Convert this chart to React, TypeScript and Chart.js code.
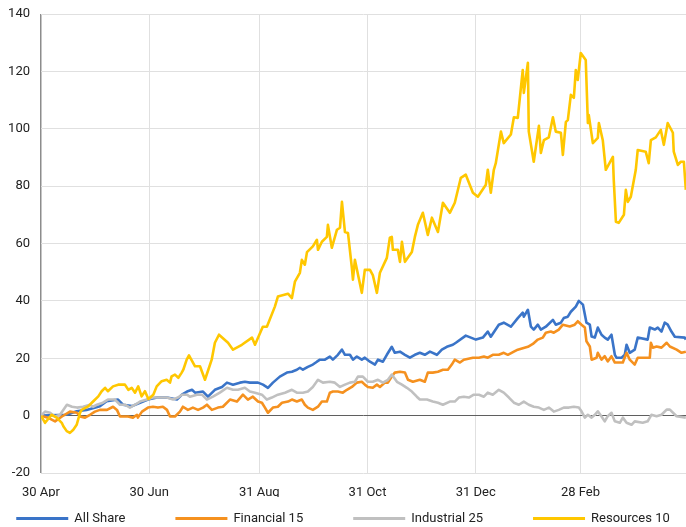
import React, { useEffect, useRef } from "react";
import { Chart, registerables } from "chart.js";

Chart.register(...registerables);

// x values are days since 30 Apr
const tickDays = [0, 61, 123, 184, 245, 304];
const tickLabels = ["30 Apr", "30 Jun", "31 Aug", "31 Oct", "31 Dec", "28 Feb"];
const seriesNames = ["All Share", "Financial 15", "Industrial 25", "Resources 10"];

const allShareDays = [0, 14.5, 20.1, 25.7, 33.2, 37, 43.4, 46.2, 51.3, 55.8, 60.3, 65.4, 71, 76.6, 79.4, 82.3, 85.1, 86.8, 91.3, 94.1, 98, 102, 104.8, 108.2, 112.1, 114.9, 117.7, 122.3, 125.1, 127.9, 130.7, 134.6, 138.6, 141.4, 144.2, 145.9, 147.6, 150.4, 153.2, 155.5, 157.2, 160, 162.8, 164.5, 167.3, 169.6, 171.3, 174.1, 175.8, 178, 180.8, 182.5, 185.4, 188.2, 189.9, 192.7, 194.9, 197.7, 199.4, 202.3, 205.1, 207.9, 210.7, 213.5, 216.3, 219.2, 223.1, 225.9, 228.7, 232.1, 233.8, 239.4, 245.1, 249, 251.8, 253.5, 258, 260.8, 264.8, 268.7, 271.5, 272.1, 274.4, 276.1, 277.7, 280, 281.7, 284.5, 288.5, 290.1, 293, 294.6, 296.9, 298.6, 301.4, 303.1, 305.4, 307.4, 309.3, 310.3, 312.1, 313.8, 315.9, 317.7, 319.4, 321.5, 323.4, 324.3, 327.2, 329, 330, 331.8, 334.6, 336.3, 341.9, 343.1, 345.9, 347.6, 349.7, 351.5, 353.2, 355.3, 357.2, 362.8, 363.4];
const allShareValues = [0, 0.3, 1.5, 2, 3.3, 5, 5.6, 3.8, 3.3, 4.5, 5.6, 6.3, 6.3, 5.6, 7.3, 8.4, 9, 8, 8.4, 6.6, 9, 10, 11.5, 10.8, 11.5, 11.8, 11.5, 11.5, 10.8, 9.7, 11.5, 13.6, 15, 15.3, 16, 16.7, 16, 17, 17.8, 18.8, 19.5, 19.5, 20.6, 19.5, 21.2, 23, 21.2, 21.2, 19.5, 20.6, 19.5, 20.2, 18.8, 17.8, 19.5, 18.8, 21.2, 24, 21.9, 22.3, 21.2, 20.2, 21.2, 21.9, 21.2, 22.3, 21.2, 23, 24, 24.7, 25.4, 27.9, 26.5, 27.2, 29.3, 27.5, 31.7, 32.4, 31, 34, 35.9, 34.5, 36.9, 31, 30, 31.7, 30, 31, 33.4, 31.7, 32.4, 34, 34.5, 36.2, 38, 40, 38.7, 32.4, 31.7, 27.6, 27.2, 30.7, 28.2, 27.2, 26.5, 28.2, 21.2, 20.2, 20.2, 21.2, 24.7, 21.9, 23, 27.2, 26.5, 30.7, 30, 30.7, 29.3, 32.4, 31.7, 29.3, 27.5, 27.2, 26.5];

const financialDays = [0, 3.9, 7.9, 11.8, 16.3, 20.3, 22, 24.8, 27.6, 30.4, 33.2, 37.2, 40.6, 42.8, 44.5, 49, 51.8, 54.1, 54.6, 56.9, 60.3, 63.1, 65.9, 68.7, 71, 72.7, 75.5, 78.3, 80, 82.8, 85.6, 88.5, 91.3, 93.5, 96.3, 99.7, 102.5, 106.5, 110.4, 113.8, 116.6, 119.4, 122.3, 124.5, 126.2, 127.9, 130.7, 133.5, 135.8, 139.2, 141.4, 144.2, 147, 148.7, 150.4, 153.2, 156.1, 158.3, 161.1, 162.8, 164.5, 167.3, 170.1, 172.4, 175.2, 178, 180.8, 182.5, 184.2, 187, 189.3, 191, 193.8, 195.5, 197.7, 199.4, 202.3, 205.1, 206.8, 209.6, 213.5, 216.3, 218, 220.8, 223.7, 226.5, 229.3, 231.5, 233.2, 236.1, 238.3, 243.4, 246.8, 249.6, 251.8, 254.6, 258, 260.8, 263.1, 266.5, 268.7, 271.5, 274.4, 277.2, 280, 282.8, 284.5, 287.3, 289, 291.8, 294.1, 298, 300.8, 302.5, 304.6, 306.5, 307.4, 309.3, 310.3, 313.1, 313.8, 315.9, 317.7, 319.4, 321.5, 323.4, 327.9, 330, 331.8, 334.6, 336.3, 343.1, 343.7, 344.8, 346.9, 349.7, 352.6, 354.4, 358.2, 361, 363.4];
const financialValues = [0, -0.7, -2, -0.3, 1.4, 1, -0.3, -0.7, 0.3, 1.4, 2, 2, 3.1, 2, -0.3, -0.3, -0.7, 0.3, -0.7, 1.4, 2.8, 3.1, 2.8, 3.1, 2, -0.3, -0.3, 1.4, 3.1, 2, 2.8, 2, 2.8, 3.8, 2, 2.8, 3.1, 5.6, 4.9, 7.3, 5.6, 6.6, 4.9, 4.5, 2.8, 1, 2.8, 3.1, 4.5, 4.9, 5.6, 4.9, 5.6, 3.8, 2.8, 2, 3.1, 4.9, 4.9, 8, 8.4, 8.4, 8, 9, 10, 11.5, 11.8, 10.8, 10, 9.7, 10.8, 10, 11.5, 11.5, 13.6, 15, 15.3, 15, 12.5, 11.8, 12.5, 11.8, 15, 15, 15.3, 16, 16, 17.8, 19.5, 18.5, 19.5, 20.2, 20.2, 20.6, 20.2, 21.2, 21.2, 21.9, 21.2, 22.3, 23, 23.5, 24, 25, 26.5, 27.2, 28.9, 29.3, 28.9, 30, 31.7, 31.1, 31.7, 32.9, 31.7, 30.7, 25.9, 24.1, 19.5, 20.2, 21.9, 19.5, 20.7, 18.9, 20.7, 18.5, 18.5, 21.9, 19.5, 17.8, 20.2, 20.2, 25.4, 23.7, 24.1, 23.7, 25.4, 24.1, 23, 21.9, 22.3];

const industrialDays = [0, 2.3, 5.1, 7.9, 10.7, 14.6, 17.5, 20.3, 23.7, 27.6, 29.3, 31.5, 34.9, 37.7, 41.7, 44.5, 47.3, 50.1, 53, 55.8, 59.7, 63.1, 67, 71, 74.4, 77.2, 79.4, 82.3, 83.9, 87.9, 90.7, 93.5, 96.9, 100.8, 104.8, 108.2, 111, 114.9, 117.7, 120.6, 124.5, 127.3, 130.1, 133.5, 137.5, 141.4, 144.2, 147.6, 150.4, 153.2, 156.1, 158.9, 162.8, 165.6, 168.5, 171.3, 174.1, 176.9, 178.6, 181.4, 184.2, 187, 189.9, 192.7, 195.5, 197.7, 200.6, 203.4, 206.2, 209, 211.8, 213.5, 217.5, 220.8, 223.7, 226.5, 230.4, 233.2, 235.5, 238.3, 241.1, 243.9, 246.8, 249.6, 251.8, 254.6, 258, 260.8, 263.7, 266.5, 269.3, 272.1, 274.9, 277.7, 280.6, 283.4, 286.2, 289, 291.8, 294.6, 297.5, 300.3, 303.1, 304.6, 306.5, 308.2, 310.3, 312, 313.8, 315.9, 317.7, 319.4, 321.5, 323.4, 326.2, 327.9, 330, 332.8, 334.6, 339.1, 341.9, 344, 346.9, 349.7, 352.6, 354.4, 358.2, 363.4];
const industrialValues = [0, 1.4, 1, -0.3, 0.3, 3.8, 3.1, 2.8, 3.1, 3.8, 3.1, 3.8, 4.5, 5.6, 5.6, 3.8, 3.8, 2.8, 3.8, 4.9, 5.6, 6.3, 6.3, 6.3, 5.6, 6.3, 7.3, 7.3, 6.6, 7.3, 7.3, 5.6, 6.6, 8, 9.7, 9, 9, 9.7, 8.4, 8, 7.3, 5.6, 6.3, 7.3, 8, 9, 8, 8, 8.4, 10, 12.5, 11.5, 11.8, 11.5, 10, 10.8, 11.5, 11.8, 13.6, 13.6, 11.8, 11.8, 12.5, 11.5, 12.5, 14.3, 11.8, 10.8, 9.7, 8.4, 6.6, 5.6, 5.6, 4.9, 4.5, 3.8, 4.9, 4.9, 6.3, 6.6, 6.3, 7.3, 7.3, 6.6, 8, 7.3, 9, 8, 6.3, 4.5, 3.8, 4.9, 3.8, 3.1, 2.8, 2, 2.8, 1.4, 2, 2.8, 2.8, 3.1, 2.8, 1.5, -0.7, 0.3, -0.7, 0.2, 1.5, -0.3, -2, -0.2, 1, -2, -2.5, -0.7, -2.5, -3.2, -2, -2.5, -2, 0.3, -0.2, 0.3, 2.1, 2.1, -0.2, -0.7];

const resourcesDays = [0, 2.3, 6, 8.8, 11.7, 12.6, 14.5, 16.3, 18.2, 20.1, 22, 22.9, 26.6, 29.5, 32.3, 34.2, 36.1, 37.7, 40.6, 43.5, 47.3, 49.2, 51.1, 53, 54.8, 56.7, 58.6, 60.5, 63.3, 65.2, 68, 70.8, 72.7, 73.6, 75.5, 77.4, 79.3, 80.2, 82.1, 83.4, 86.8, 89.6, 92.4, 94.3, 96.2, 98, 100.3, 105.4, 108.2, 113.2, 118.9, 120.6, 125, 127.3, 131.8, 133.5, 139.2, 141.4, 143.1, 145.9, 147, 148.7, 149.9, 153.2, 155.5, 156.1, 158.3, 161.1, 161.7, 163.9, 166.8, 168.5, 169.6, 171.3, 173, 175.2, 175.8, 176.9, 180.8, 182.5, 185.4, 187, 189.3, 191, 194.9, 196.6, 197.7, 198.3, 201.1, 202.3, 203.4, 205.1, 209, 210.7, 212.4, 215.2, 218, 220.3, 223.7, 226.5, 230.4, 233.2, 236.6, 239.4, 243.4, 246.2, 250.7, 251.8, 253.5, 255.2, 256.3, 259.2, 260.8, 264.8, 266.5, 268.7, 271.5, 272.1, 274.4, 274.9, 277.7, 280.6, 281.7, 283.4, 286.2, 288.5, 290.1, 293, 294.1, 295.8, 296.9, 298.6, 300.3, 301.4, 302.5, 304.2, 307, 308.2, 308.7, 311, 313.8, 314.4, 316.6, 318.3, 322.3, 322.8, 324, 325.6, 328.5, 329.6, 330.7, 332.4, 335.2, 336.3, 340.8, 342.5, 343.7, 346.5, 349.3, 351, 353.2, 356.1, 356.6, 358.9, 360.6, 362.3, 363.4];
const resourcesValues = [0, -2.5, 0.3, -0.7, -2.5, -3.7, -5.4, -6, -4.9, -3.2, 1, 2, 3.2, 5, 6.7, 8.5, 9.7, 8.5, 10.2, 10.8, 10.8, 9, 9.7, 8, 10.2, 6.7, 8.5, 5.8, 7.3, 10.2, 12, 12.5, 11.5, 13.7, 14.3, 13.2, 15, 16, 19.5, 21, 17.2, 17.2, 12.5, 16, 19.5, 25.4, 28.2, 25.4, 23, 24.7, 27.2, 24.7, 31, 31, 38, 41.5, 42.5, 41, 46.7, 49.8, 54.3, 52.6, 57, 59, 61.3, 57.8, 60.6, 62.3, 66.5, 58.5, 64.8, 65.5, 74.5, 64, 63.7, 51.5, 47.4, 54.3, 42.8, 50.8, 50.8, 49, 42.8, 49.8, 55, 62, 62.3, 57.8, 57.8, 53.6, 60.6, 53.6, 57, 62.3, 66.5, 70.7, 63, 69, 64, 74.2, 70.7, 74.2, 82.9, 84, 77.7, 76.3, 80.5, 85.7, 77.7, 85.7, 88, 99, 95, 98, 104, 103.8, 120.5, 112.5, 123, 99, 88.5, 101, 91.6, 96, 97, 104, 99, 98.6, 90.9, 102.4, 103, 111.8, 110.8, 120.5, 117, 126.4, 124, 102, 104.8, 95, 96.8, 102, 96, 85.7, 90.2, 82, 67.6, 67.2, 70, 78.7, 74.5, 76.3, 85.7, 92.6, 92, 88, 96, 97, 99.6, 94.4, 102, 98.6, 92, 87.4, 88.5, 88.5, 78.7];

const seriesColors = ["#3a74c8", "#f5911f", "#c0c0c0", "#ffc700"];

const toPoints = (days: number[], values: number[]) =>
  days.map((d, i) => ({ x: d, y: values[i] }));

const FONT = "Roboto, 'Noto Sans', sans-serif";

const bottomLegend = {
  id: "bottomLegend",
  afterDraw(chart: any) {
    const ctx = chart.ctx;
    ctx.save();
    ctx.font = `13px ${FONT}`;
    const lineW = 52;
    const textGap = 6;
    const gap = 50;
    const items = chart.data.datasets.map((ds: any) => ({
      label: ds.label,
      color: ds.borderColor,
      w: ctx.measureText(ds.label).width,
    }));
    const total =
      items.reduce((s: number, it: any) => s + lineW + textGap + it.w, 0) +
      gap * (items.length - 1);
    let x = (chart.width - total) / 2;
    const y = 518.5;
    items.forEach((it: any) => {
      ctx.fillStyle = it.color;
      ctx.fillRect(x, y - 1.5, lineW, 3);
      x += lineW + textGap;
      ctx.fillStyle = "#222";
      ctx.textBaseline = "middle";
      ctx.textAlign = "left";
      ctx.fillText(it.label, x, y + 0.5);
      x += it.w + gap;
    });
    ctx.restore();
  },
};

export default function App() {
  const ref = useRef<HTMLCanvasElement | null>(null);

  useEffect(() => {
    document.body.style.margin = "0";
    const canvas = ref.current;
    if (!canvas) return;
    const data = [
      toPoints(allShareDays, allShareValues),
      toPoints(financialDays, financialValues),
      toPoints(industrialDays, industrialValues),
      toPoints(resourcesDays, resourcesValues),
    ];
    const chart = new Chart(canvas, {
      type: "line",
      data: {
        datasets: seriesNames.map((name, i) => ({
          label: name,
          data: data[i],
          borderColor: seriesColors[i],
          backgroundColor: seriesColors[i],
          borderWidth: 2.6,
          pointRadius: 0,
          tension: 0,
          borderJoinStyle: "round" as const,
          order: 4 - i,
        })),
      },
      options: {
        responsive: false,
        animation: false,
        layout: { padding: { top: 14, bottom: 30, left: 0, right: 0 } },
        plugins: {
          legend: { display: false },
          tooltip: { enabled: false },
        },
        scales: {
          x: {
            type: "linear",
            min: 0,
            max: 363.5,
            afterBuildTicks: (axis: any) => {
              axis.ticks = tickDays.map((v) => ({ value: v }));
            },
            afterFit: (axis: any) => {
              axis.height = 24;
              axis.paddingLeft = 0;
              axis.paddingRight = 0;
            },
            border: { display: false },
            grid: {
              drawTicks: false,
              color: (c: any) => (c.tick && c.tick.value === 0 ? "#8c8c8c" : "#e0e0e0"),
              lineWidth: (c: any) => (c.tick && c.tick.value === 0 ? 1.5 : 1),
            },
            ticks: {
              autoSkip: false,
              maxRotation: 0,
              padding: 12,
              color: "#222",
              font: { family: FONT, size: 13 },
              callback: (v: any) => {
                const idx = tickDays.indexOf(Number(v));
                return idx >= 0 ? tickLabels[idx] : "";
              },
            },
          },
          y: {
            min: -20,
            max: 140,
            afterFit: (axis: any) => {
              axis.width = 41;
              axis.paddingTop = 0;
              axis.paddingBottom = 0;
            },
            border: { display: false },
            grid: {
              drawTicks: false,
              color: (c: any) => (c.tick && c.tick.value === 0 ? "#5f5f5f" : "#e0e0e0"),
              lineWidth: 1,
            },
            ticks: {
              stepSize: 20,
              padding: 11,
              color: "#222",
              font: { family: FONT, size: 13 },
            },
          },
        },
      },
      plugins: [bottomLegend],
    });
    return () => chart.destroy();
  }, []);

  return (
    <div style={{ width: 686, height: 527 }}>
      <canvas ref={ref} width={686} height={527} style={{ display: "block" }} />
    </div>
  );
}
